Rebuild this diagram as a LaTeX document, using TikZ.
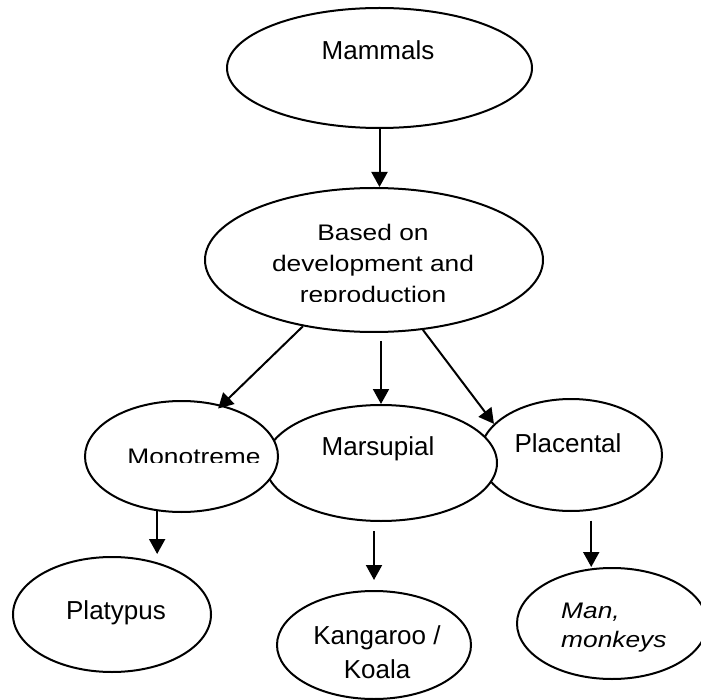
\documentclass[tikz,border=0pt]{standalone}
\usepackage{fontspec}
\setmainfont{Liberation Sans}
\newfontfamily\squashfont{Liberation Sans}[FakeStretch=1.17]
\usetikzlibrary{arrows.meta,shapes.geometric}
\tikzset{
  oval/.style={ellipse, draw, fill=white, line width=2pt, inner sep=0pt},
  txt/.style={inner sep=0pt, font=\fontsize{26}{34}\selectfont},
  sqtxt/.style={inner sep=0pt, font=\squashfont\fontsize{22.5}{31}\selectfont},
  arr/.style={-{Triangle[length=15pt,width=16pt]}, line width=2pt},
}
\begin{document}
\begin{tikzpicture}[x=1pt, y=-1pt]
    \useasboundingbox (0,0) rectangle (701,700);
    % top levels
    \node[oval, minimum width=305pt, minimum height=120pt] (mam) at (379.5,68) {};
    \node[oval, minimum width=338pt, minimum height=144pt] (basis) at (374,260) {};
    % middle row, drawn right to left so the overlaps fall as in the original
    \node[oval, minimum width=182pt, minimum height=112pt] (plac) at (571,455) {};
    \node[oval, minimum width=232pt, minimum height=116pt] (mars) at (381,463) {};
    \node[oval, minimum width=193pt, minimum height=111pt] (mono) at (181.5,456.5) {};
    % bottom row
    \node[oval, minimum width=198pt, minimum height=115pt] (platy) at (112,614.5) {};
    \node[oval, minimum width=194pt, minimum height=108pt] (kanga) at (374,645) {};
    \node[oval, minimum width=190pt, minimum height=111pt] (man) at (612,623.5) {};

    % texts (base of a multi-line node = its last line)
    \node[txt, anchor=base] (mamtxt) at (378,60) {Mammals};
    \begin{scope}
      \clip (200,200) rectangle (550,302);
      \node[sqtxt, anchor=base, align=center] (basistxt) at (373,303) {Based on\\development and\\reproduction};
    \end{scope}
    \node[txt, anchor=base] (marstxt) at (378,455) {Marsupial};
    \node[txt, anchor=base] (plactxt) at (568,452) {Placental};
    \begin{scope}
      \clip (100,420) rectangle (280,462.5);
      \node[sqtxt, anchor=base] (monotxt) at (194,464) {Monotreme};
    \end{scope}
    \node[txt, anchor=base] (platytxt) at (116,619) {Platypus};
    \node[txt, anchor=base, align=center] (kangatxt) at (377,678) {Kangaroo /\\Koala};
    \node[sqtxt, anchor=base west, align=left, font=\squashfont\itshape\fontsize{22.5}{29}\selectfont] (mantxt) at (561,647) {Man,\\monkeys};

    % connectors
    \draw[arr] (mam.south) -- (mam.south |- basis.north);
    \draw[arr, shorten >=-5pt] (basis.223) -- (mono.52);
    \draw[arr, shorten <=8pt] (mars.north |- basis.south) -- (mars.north);
    \draw[arr] (basis.305) -- (plac.158);
    \draw[arr, shorten >=2pt] (mono.246) -- (mono.246 |- platy.north);
    \draw[arr, shorten <=9pt, shorten >=10pt] (kanga.north |- mars.south) -- (kanga.north);
    \draw[arr, shorten <=10pt] (plac.290) -- (plac.290 |- man.north);
\end{tikzpicture}
\end{document}
